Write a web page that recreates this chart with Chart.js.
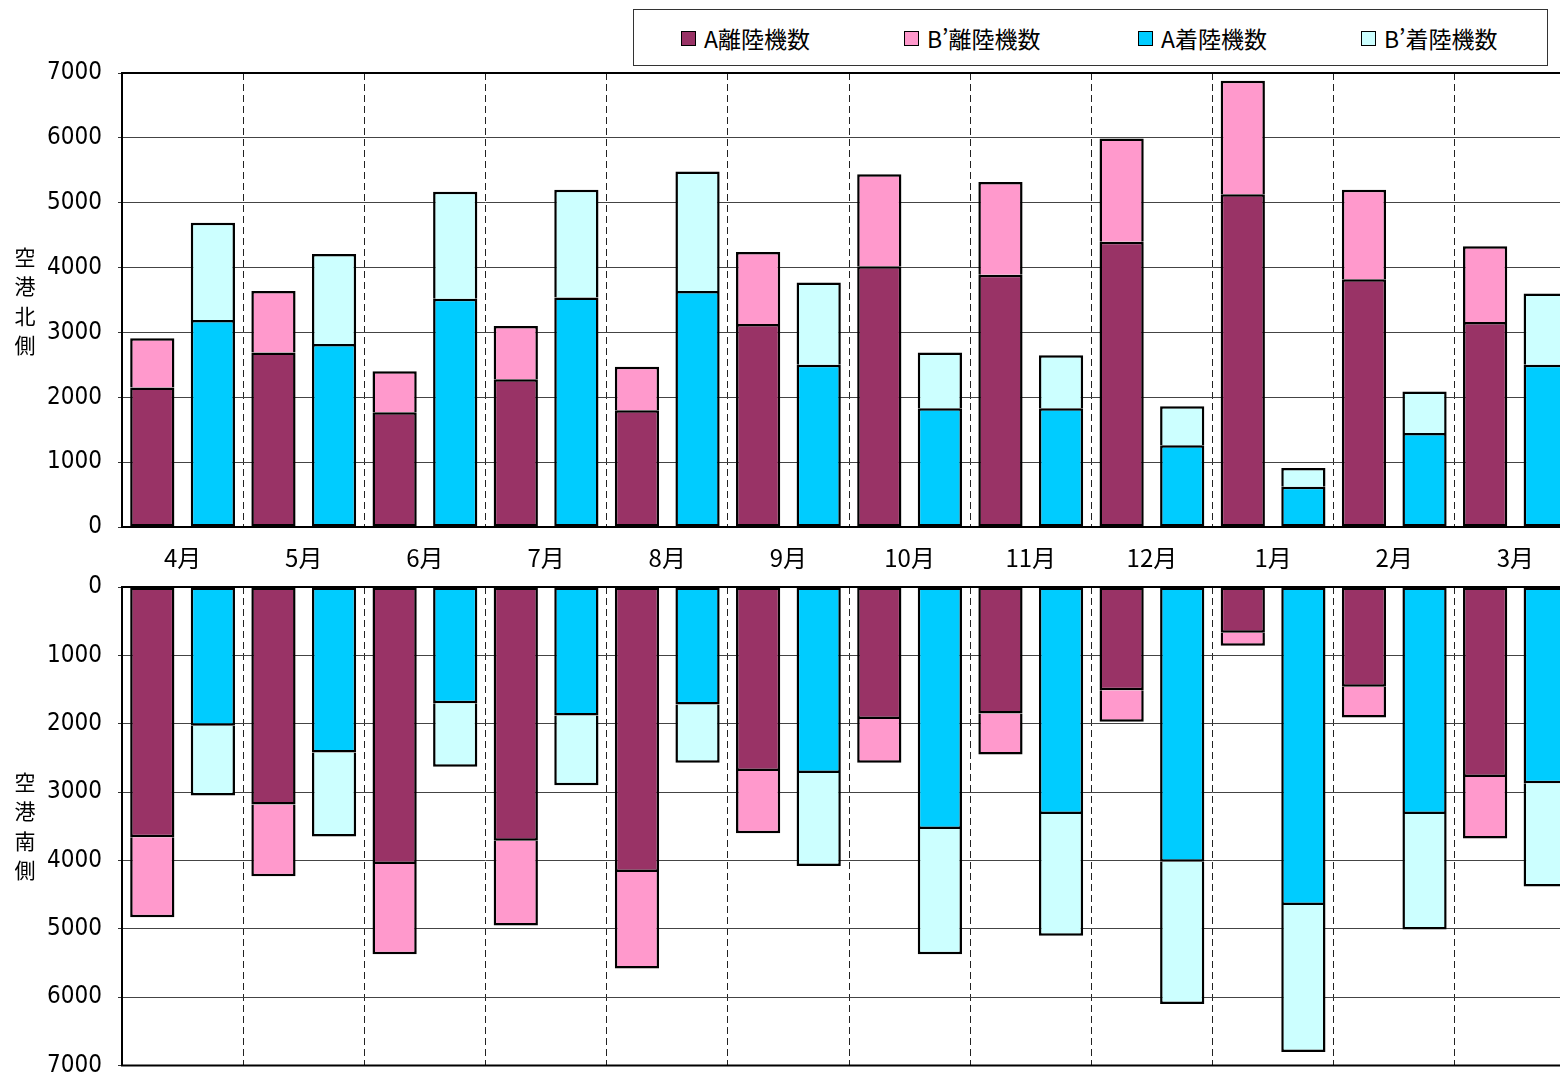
<!DOCTYPE html>
<html lang="ja">
<head>
<meta charset="utf-8">
<title>空港北側・南側 月別離着陸機数</title>
<script src="https://cdn.jsdelivr.net/npm/chart.js@4.4.1/dist/chart.umd.min.js"></script>
<style>
  html, body { margin: 0; padding: 0; background: #fff; width: 1560px; height: 1079px; overflow: hidden; }
  canvas { position: absolute; left: 0; }
  #north { top: 0; }
  #south { top: 550px; }
  #legend {
    position: absolute; left: 633px; top: 9px; width: 913px; height: 55px;
    border: 1px solid #333; background: #fff; z-index: 2;
    font-family: 'Liberation Sans Narrow', 'Noto Sans CJK JP', sans-serif; font-size: 23px; color: #000;
  }
  #legend .item { position: absolute; top: 14px; height: 28px; line-height: 28px; white-space: nowrap; }
  #legend .swatch {
    position: absolute; left: 0; top: 7px; width: 13px; height: 13px;
    border: 1.5px solid #000;
  }
  #legend .label { position: absolute; left: 23px; top: 0; }
</style>
</head>
<body>
<div id="legend"></div>
<canvas id="north" width="1600" height="580" style="width:1600px;height:580px"></canvas>
<canvas id="south" width="1600" height="546" style="width:1600px;height:546px"></canvas>
<script>
// 月（年度順）
const months = ['4月', '5月', '6月', '7月', '8月', '9月', '10月', '11月', '12月', '1月', '2月', '3月'];
const seriesNames = ['A離陸機数', 'B’離陸機数', 'A着陸機数', 'B’着陸機数'];
const seriesColors = ['#993366', '#FF99CC', '#00CCFF', '#CCFFFF'];
const yTickStep = 1000;
const yMax = 7000;

// 空港北側
const northDepA = [2150, 2690, 1770, 2280, 1800, 3130, 4020, 3890, 4400, 5130, 3820, 3160];
const northDepB = [760, 950, 630, 820, 670, 1110, 1420, 1430, 1590, 1750, 1380, 1170];
const northArrA = [3190, 2820, 3520, 3540, 3640, 2500, 1830, 1830, 1260, 620, 1450, 2500];
const northArrB = [1500, 1390, 1650, 1660, 1840, 1270, 860, 820, 600, 290, 640, 1100];

// 空港南側
const southDepA = [3660, 3180, 4050, 3710, 4170, 2690, 1930, 1850, 1510, 670, 1460, 2780];
const southDepB = [1170, 1050, 1320, 1240, 1410, 910, 640, 600, 460, 190, 450, 900];
const southArrA = [2030, 2420, 1700, 1880, 1720, 2720, 3540, 3320, 4020, 4650, 3320, 2870];
const southArrB = [1020, 1230, 930, 1020, 850, 1360, 1830, 1780, 2080, 2150, 1690, 1510];

const numFont = "'Liberation Sans Narrow', 'DejaVu Sans Condensed', 'Noto Sans CJK JP', sans-serif";
const jpFont = "'Noto Sans CJK JP', sans-serif";

function makeDatasets(depA, depB, arrA, arrB) {
  const values = [depA, depB, arrA, arrB];
  const stacks = ['dep', 'dep', 'arr', 'arr'];
  return values.map((v, i) => ({
    label: seriesNames[i],
    data: v,
    stack: stacks[i],
    backgroundColor: seriesColors[i],
    borderColor: '#000',
    borderWidth: 2.5,
    // 上段（B’）は下段（A）との境界線を共有する
    borderSkipped: i % 2 === 1 ? 'start' : false
  }));
}

// 枠線（上・左・下）
const framePlugin = {
  id: 'frame',
  afterDatasetsDraw(chart) {
    const { ctx, chartArea: a } = chart;
    ctx.save();
    ctx.strokeStyle = '#000';
    ctx.lineWidth = 2;
    ctx.beginPath();
    ctx.moveTo(chart.width, a.top); ctx.lineTo(a.left, a.top);
    ctx.lineTo(a.left, a.bottom); ctx.lineTo(chart.width, a.bottom);
    ctx.stroke();
    ctx.restore();
  }
};

// 縦書きの軸タイトル
const verticalTitle = {
  id: 'verticalTitle',
  afterDraw(chart, args, opts) {
    const { ctx } = chart;
    const chars = Array.from(opts.text);
    ctx.save();
    ctx.fillStyle = '#000';
    ctx.font = '21px ' + jpFont;
    ctx.textAlign = 'center';
    ctx.textBaseline = 'middle';
    chars.forEach((c, i) => {
      ctx.fillText(c, opts.x, opts.centerY + (i - (chars.length - 1) / 2) * 29.5);
    });
    ctx.restore();
  }
};

function panelOptions(reverse, showMonths, padTop, padBottom, title, titleY) {
  return {
    responsive: false,
    animation: false,
    layout: { padding: { top: padTop, right: 24, bottom: padBottom, left: 0 } },
    datasets: { bar: { categoryPercentage: 1.0, barPercentage: 0.73 } },
    plugins: {
      legend: { display: false },
      tooltip: { enabled: false },
      verticalTitle: { text: title, x: 25, centerY: titleY }
    },
    scales: {
      x: {
        stacked: true,
        offset: true,
        grid: { offset: true, color: '#222', lineWidth: 1, drawTicks: false },
        border: { display: false, dash: [7, 4] },
        ticks: {
          display: showMonths,
          autoSkip: false, maxRotation: 0, minRotation: 0,
          padding: 16,
          color: '#000',
          font: { family: "'Liberation Sans Narrow', 'Noto Sans CJK JP', sans-serif", size: 24 }
        },
        afterFit(s) { s.height = showMonths ? 53 : 0; }
      },
      y: {
        stacked: true,
        reverse: reverse,
        min: 0,
        max: yMax,
        grid: { color: '#444', lineWidth: 1, tickLength: 4, tickColor: '#333' },
        border: { display: false },
        ticks: {
          stepSize: yTickStep,
          padding: 16,
          color: '#000',
          font: { family: numFont, size: 24 },
          callback: (v) => String(v)
        },
        afterFit(s) { s.width = 122; }
      }
    }
  };
}

const southTop = 550;

new Chart(document.getElementById('north'), {
  type: 'bar',
  data: { labels: months, datasets: makeDatasets(northDepA, northDepB, northArrA, northArrB) },
  options: panelOptions(false, true, 73, 0, '空港北側', 301),
  plugins: [framePlugin, verticalTitle]
});

new Chart(document.getElementById('south'), {
  type: 'bar',
  data: { labels: months, datasets: makeDatasets(southDepA, southDepB, southArrA, southArrB) },
  options: panelOptions(true, false, 37, 27, '空港南側', 826 - southTop),
  plugins: [framePlugin, verticalTitle]
});

// 凡例
const legendX = [47, 270, 504, 727];
const legend = document.getElementById('legend');
seriesNames.forEach((name, i) => {
  const item = document.createElement('div');
  item.className = 'item';
  item.style.left = legendX[i] + 'px';
  const sw = document.createElement('span');
  sw.className = 'swatch';
  sw.style.background = seriesColors[i];
  const lb = document.createElement('span');
  lb.className = 'label';
  lb.textContent = name;
  item.appendChild(sw);
  item.appendChild(lb);
  legend.appendChild(item);
});
</script>
</body>
</html>
